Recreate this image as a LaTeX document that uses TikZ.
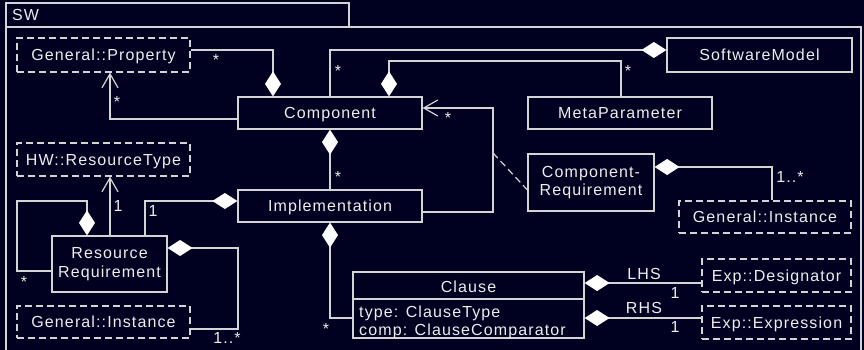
\documentclass[tikz,border=0pt]{standalone}
\usepackage{fontspec}
\setmainfont{Liberation Sans}[LetterSpace=7]
\usetikzlibrary{arrows.meta}
\definecolor{bg}{RGB}{0,0,32}
\definecolor{ln}{RGB}{212,212,212}
\definecolor{tx}{RGB}{238,238,238}
\begin{document}
\begin{tikzpicture}[x=1pt,y=-1pt,
  every node/.style={font=\fontsize{16}{18.5}\selectfont, text=tx},
  box/.style={draw=ln, line width=1.2pt, inner sep=0pt},
  one/.style={text height=11.5pt, text depth=0pt},
  ext/.style={box, dash pattern=on 7pt off 4pt},
  two/.style={align=center},
  wire/.style={draw=ln, line width=1.2pt},
  agg/.style={wire, {Diamond[length=25pt,width=16pt,color=white]}-},
  nav/.style={wire, -{Straight Barb[length=14pt,width=16pt]}},
  lab/.style={anchor=base, inner sep=0pt},
]
\useasboundingbox (0,0) rectangle (864,350);
\fill[bg] (0,0) rectangle (864,350);
% frame
\draw[wire] (6,360) -- (6,27) -- (861,27) -- (861,360);
\draw[wire] (6,27) -- (6,3) -- (349,3) -- (349,27);
\node[anchor=base west, inner sep=0pt] (sw) at (12,21) {SW};
% classes
\node[ext, one, minimum width=173pt, minimum height=34pt] (prop) at (103.5,55) {General::Property};
\node[box, one, minimum width=184pt, minimum height=32pt] (comp) at (330,113) {Component};
\node[box, one, minimum width=185pt, minimum height=34pt] (swm) at (759.5,55) {SoftwareModel};
\node[box, one, minimum width=184pt, minimum height=32pt] (meta) at (620,113) {MetaParameter};
\node[box, one, minimum width=184pt, minimum height=32pt] (impl) at (330,206) {Implementation};
\node[ext, one, minimum width=173pt, minimum height=33pt] (hwrt) at (103.5,159.5) {HW::ResourceType};
\node[box, two, minimum width=126pt, minimum height=57pt] (compreq) at (591,182.5) {Component-\\Requirement};
\node[ext, one, minimum width=172pt, minimum height=32pt] (ginst2) at (765,217) {General::Instance};
\node[box, two, minimum width=115pt, minimum height=56pt] (resreq) at (109.5,264) {Resource\\Requirement};
\node[ext, one, minimum width=173pt, minimum height=32pt] (ginst1) at (103.5,322) {General::Instance};
\node[box, minimum width=231pt, minimum height=66pt] (clause) at (468.5,305) {};
\node[ext, one, minimum width=149pt, minimum height=33pt] (expd) at (776.5,275.5) {Exp::Designator};
\node[ext, one, minimum width=149pt, minimum height=33pt] (expe) at (776.5,322.5) {Exp::Expression};
% clause contents
\draw[wire] (clause.west |- 0,299) -- (clause.east |- 0,299);
\node[lab] (cname) at (468.5,292) {Clause};
\node[anchor=base west, inner sep=0pt] (cattr1) at (359,317) {type: ClauseType};
\node[anchor=base west, inner sep=0pt] (cattr2) at (359,335) {comp: ClauseComparator};
% connectors
\draw[agg] (comp.north -| 273,0) |- (prop.east |- 0,50);
\draw[nav] (comp.west |- 0,119) -| (prop.south -| 110,0);
\draw[agg] (swm.west |- 0,50) -| (comp.north -| 330,0);
\draw[agg] (comp.north -| 389,0) -- (389,61) -| (meta.north -| 621,0);
\draw[nav] (impl.east |- 0,212) -| (493,108) -- (comp.east |- 0,108);
\coordinate (ac) at (493,153);
\draw[wire, dash pattern=on 7pt off 4pt] (ac) -- (compreq.west |- 0,190);
\draw[agg] (compreq.east |- 0,167) -| (ginst2.north -| 772,0);
\draw[agg] (comp.south) -- (impl.north);
\draw[agg] (impl.south) |- (clause.west |- 0,318);
\draw[agg] (impl.west |- 0,201) -| (resreq.north -| 145,0);
\draw[nav] (resreq.north -| 110,0) -- (hwrt.south -| 110,0);
\draw[agg] (resreq.north -| 87,0) |- (17,201) |- (resreq.west |- 0,271);
\draw[agg] (resreq.east |- 0,248) -| (238,329) -- (ginst1.east |- 0,329);
\draw[agg] (clause.east |- 0,283) -- (expd.west |- 0,283);
\draw[agg] (clause.east |- 0,318) -- (expe.west |- 0,318);
% multiplicities and roles
\node[lab] (m1) at (216,66) {*};
\node[lab] (m2) at (117,107) {*};
\node[lab] (m3) at (338,77) {*};
\node[lab] (m4) at (628,77) {*};
\node[lab] (m5) at (448,124) {*};
\node[lab] (m6) at (338,182) {*};
\node[lab] (m7) at (790,182) {1..*};
\node[lab] (m8) at (118,211) {1};
\node[lab] (m9) at (153,216) {1};
\node[lab] (m10) at (24,287) {*};
\node[lab] (m11) at (227,343) {1..*};
\node[lab] (m12) at (326,334) {*};
\node[lab] (lhs) at (644,279) {LHS};
\node[lab] (m13) at (675,298) {1};
\node[lab] (rhs) at (644,313) {RHS};
\node[lab] (m14) at (675,332) {1};
\end{tikzpicture}
\end{document}
